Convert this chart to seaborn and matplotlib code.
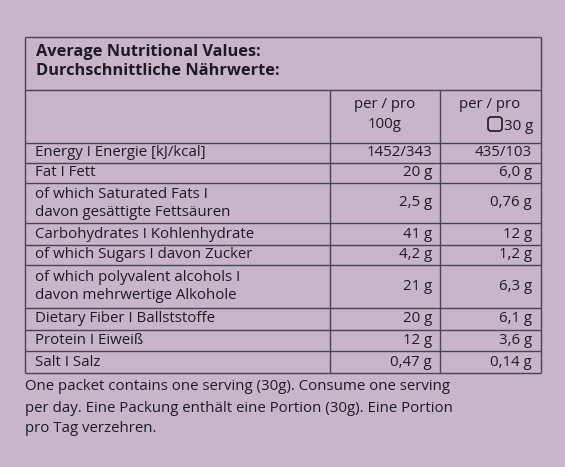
import matplotlib.pyplot as plt
import seaborn as sns
from matplotlib.patches import FancyBboxPatch

sns.set_theme(style="white")
plt.rcParams["font.family"] = ["Open Sans", "DejaVu Sans"]

BG = "#c8b5cc"
LINE = "#4a4350"

title_lines = ["Average Nutritional Values:", "Durchschnittliche Nährwerte:"]
row_labels = [
    ["Energy I Energie [kJ/kcal]"],
    ["Fat I Fett"],
    ["of which Saturated Fats I", "davon gesättigte Fettsäuren"],
    ["Carbohydrates I Kohlenhydrate"],
    ["of which Sugars I davon Zucker"],
    ["of which polyvalent alcohols I", "davon mehrwertige Alkohole"],
    ["Dietary Fiber I Ballststoffe"],
    ["Protein I Eiweiß"],
    ["Salt I Salz"],
]
per_100g = ["1452/343", "20 g", "2,5 g", "41 g", "4,2 g", "21 g", "20 g", "12 g", "0,47 g"]
per_30g = ["435/103", "6,0 g", "0,76 g", "12 g", "1,2 g", "6,3 g", "6,1 g", "3,6 g", "0,14 g"]
footer = [
    "One packet contains one serving (30g). Consume one serving",
    "per day. Eine Packung enthält eine Portion (30g). Eine Portion",
    "pro Tag verzehren.",
]

# row boundaries (pixels from top)
row_edges = [143, 163, 183, 223, 245, 265, 308, 330, 351, 373]
col_x = [25, 330, 440, 541]

fig = plt.figure(figsize=(5.65, 4.67), dpi=100, facecolor=BG)
ax = fig.add_axes([0, 0, 1, 1])
ax.set_facecolor(BG)
ax.set_xlim(0, 565)
ax.set_ylim(467, 0)
ax.axis("off")

kw = dict(color=LINE, lw=1.0)
ax.hlines([37, 90] + row_edges, col_x[0], col_x[-1], **kw)
ax.vlines([col_x[0], col_x[-1]], 37, row_edges[-1], **kw)
ax.vlines(col_x[1:3], 90, row_edges[-1], **kw)

fs = 10.8
txt = "#1e1a22"
for i, t in enumerate(title_lines):
    ax.text(36, 52 + i * 19, t, fontsize=11.8, fontweight="bold", color=txt, va="center")

ax.text(385, 104, "per / pro", fontsize=fs, ha="center", va="center", color=txt)
ax.text(385, 125, "100g", fontsize=fs, ha="center", va="center", color=txt)
ax.text(490, 104, "per / pro", fontsize=fs, ha="center", va="center", color=txt)
ax.text(533, 127, "30 g", fontsize=fs, ha="right", va="center", color=txt)
ax.add_patch(FancyBboxPatch((488, 117), 14, 14, boxstyle="round,pad=0,rounding_size=3",
                            fill=False, ec=txt, lw=1.2))

for i, lab in enumerate(row_labels):
    top, bot = row_edges[i], row_edges[i + 1]
    mid = (top + bot) / 2
    if len(lab) == 1:
        ax.text(35, mid, lab[0], fontsize=fs, va="center", color=txt)
    else:
        ax.text(35, mid - 9, lab[0], fontsize=fs, va="center", color=txt)
        ax.text(35, mid + 9, lab[1], fontsize=fs, va="center", color=txt)
    ax.text(432, mid, per_100g[i], fontsize=fs, ha="right", va="center", color=txt)
    ax.text(532, mid, per_30g[i], fontsize=fs, ha="right", va="center", color=txt)

for i, t in enumerate(footer):
    ax.text(25, 387 + i * 21, t, fontsize=fs, va="center", color=txt)

fig.savefig("out.png", dpi=100, facecolor=BG)
